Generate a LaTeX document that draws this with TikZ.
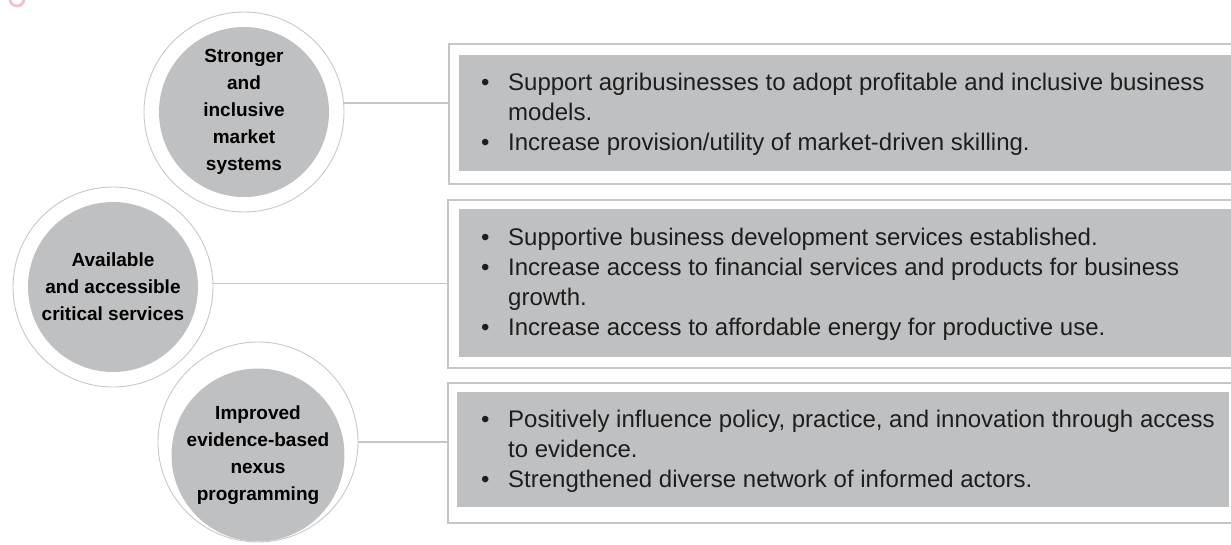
\documentclass[tikz,border=0pt]{standalone}
\usepackage{fontspec}
\setmainfont{Liberation Sans}
\definecolor{ringline}{HTML}{C8C8C8}
\definecolor{fillgray}{HTML}{BFC0C2}
\definecolor{boxline}{HTML}{C6C6C6}
\definecolor{txt}{HTML}{1E1E1E}
\definecolor{pinkring}{HTML}{F2C4CA}
\newcommand\bul{\makebox[36pt][l]{\hspace{9pt}•}}
\newcommand\cont{\hspace*{36pt}}
\tikzset{
  ring/.style={circle, draw=ringline, line width=0.9pt, minimum size=200pt, inner sep=0pt},
  disc/.style={circle, fill=fillgray, minimum size=170pt, inner sep=0pt, align=center,
    font=\fontsize{19}{27}\selectfont\bfseries, text=black},
  outerbox/.style={rectangle, draw=boxline, line width=1.5pt, anchor=north west, inner sep=0pt},
  graybox/.style={rectangle, fill=fillgray, anchor=north west, inner sep=0pt},
  bullets/.style={anchor=west, align=left, inner sep=0pt, text=txt,
    font=\fontsize{24}{30}\selectfont},
  link/.style={draw=boxline, line width=1.5pt},
}
\begin{document}
\begin{tikzpicture}[x=1pt,y=-1pt]
\useasboundingbox (0,0) rectangle (1231,544);
\clip (0,0) rectangle (1231,544);
% pink partial ring at top left
\draw[pinkring, line width=2.8pt] (17,-1) circle (7);
% circles
\node[ring] (r1) at (244,112) {};
\node[disc] (c1) at (244,112) {Stronger\\and\\inclusive\\market\\systems};
\node[ring] (r2) at (113,287) {};
\node[disc] (c2) at (113,287) {Available\\and accessible\\critical services};
\node[ring] (r3) at (258,442) {};
\node[disc, yshift=-13pt] (c3) at (258,442) {Improved\\evidence-based\\nexus\\programming};
% boxes
\node[outerbox, minimum width=800pt, minimum height=140pt] (b1) at (448,43) {};
\node[graybox, minimum width=790pt, minimum height=116pt] (g1) at (459,55) {};
\node[bullets] (t1) at (472,114) {\bul Support agribusinesses to adopt profitable and inclusive business\\
\cont models.\\
\bul Increase provision/utility of market-driven skilling.};
\node[outerbox, minimum width=800pt, minimum height=168pt] (b2) at (447,199) {};
\node[graybox, minimum width=790pt, minimum height=148pt] (g2) at (459,209) {};
\node[bullets] (t2) at (472,284) {\bul Supportive business development services established.\\
\bul Increase access to financial services and products for business\\
\cont growth.\\
\bul Increase access to affordable energy for productive use.};
\node[outerbox, minimum width=800pt, minimum height=140pt] (b3) at (447,382) {};
\node[graybox, minimum width=772pt, minimum height=115pt] (g3) at (457,392) {};
\node[bullets] (t3) at (472,451) {\bul Positively influence policy, practice, and innovation through access\\
\cont to evidence.\\
\bul Strengthened diverse network of informed actors.};
% connectors
\draw[link] (r1.5.7) -- (r1.5.7 -| b1.west);
\draw[link] (r2.2.3) -- (r2.2.3 -| b2.west);
\draw[link] (r3.0.6) -- (r3.0.6 -| b3.west);
\end{tikzpicture}
\end{document}
